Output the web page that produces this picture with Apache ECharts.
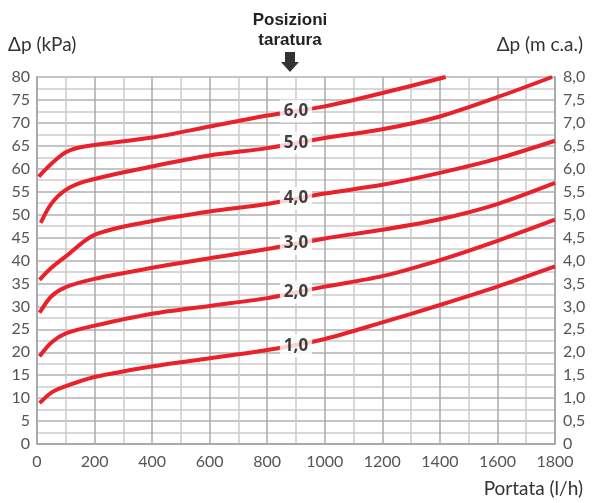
<!DOCTYPE html>
<html>
<head>
<meta charset="utf-8">
<script src="https://cdn.jsdelivr.net/npm/echarts@6/dist/echarts.min.js"></script>
<style>
  html, body { margin: 0; padding: 0; background: #fff; }
  #chart { width: 595px; height: 503px; }
</style>
</head>
<body>
<div id="chart"></div>
<script>
// curve points: [portata l/h, dp kPa]
const curve10 = [[9, 8.9], [50, 11.2], [100, 12.6], [200, 14.6], [400, 16.9], [600, 18.7], [800, 20.5], [1000, 22.9], [1200, 26.5], [1400, 30.3], [1600, 34.3], [1800, 38.7]];
const curve20 = [[9, 19.1], [50, 22.1], [100, 24.1], [200, 25.8], [400, 28.4], [600, 30.1], [800, 31.8], [1000, 34.3], [1200, 36.6], [1400, 40.1], [1600, 44.3], [1800, 48.9]];
const curve30 = [[9, 28.6], [50, 32.2], [100, 34.2], [200, 36.0], [400, 38.4], [600, 40.5], [800, 42.5], [1000, 44.8], [1200, 46.7], [1400, 49.0], [1600, 52.3], [1800, 56.9]];
const curve40 = [[9, 35.8], [50, 38.4], [100, 40.9], [200, 45.6], [400, 48.6], [600, 50.7], [800, 52.3], [1000, 54.6], [1200, 56.5], [1400, 59.1], [1600, 62.2], [1800, 66.1]];
const curve50 = [[13, 48.2], [50, 52.4], [100, 55.4], [170, 57.3], [400, 60.5], [600, 62.9], [800, 64.5], [1000, 66.7], [1200, 68.6], [1400, 71.4], [1600, 75.6], [1790, 80]];
const curve60 = [[6, 58.3], [50, 61.1], [100, 63.6], [160, 64.8], [400, 66.8], [600, 69.2], [800, 71.6], [1000, 73.6], [1200, 76.5], [1420, 80]];
const curveNames = ['1,0', '2,0', '3,0', '4,0', '5,0', '6,0'];
const labelX = 900;
const labelY = [21.4, 33.1, 43.7, 53.5, 65.6, 72.6];

const curves = [curve10, curve20, curve30, curve40, curve50, curve60];
const red = '#e8212b';
const tickFont = { color: '#555', fontSize: 16, fontFamily: 'Lato' };

const chart = echarts.init(document.getElementById('chart'));

const series = curves.map((c, i) => ({
    name: curveNames[i],
    type: 'line',
    data: c,
    smooth: 0.3,
    showSymbol: false,
    lineStyle: { color: red, width: 4 },
    z: 3
}));
series.push({
    type: 'scatter',
    symbolSize: 0,
    data: labelY.map((y, i) => [labelX, y, curveNames[i]]),
    label: {
        show: true,
        position: 'inside',
        formatter: p => p.data[2],
        backgroundColor: '#fff',
        padding: [4, 4, 2, 4],
        color: '#111',
        fontWeight: 'bold',
        fontSize: 17,
        fontFamily: 'Open Sans'
    },
    z: 5
});

chart.setOption({
    animation: false,
    grid: { left: 37, right: 40, top: 77, bottom: 59 },
    xAxis: {
        type: 'value',
        min: 0,
        max: 1800,
        interval: 200,
        axisLine: { show: true, lineStyle: { color: '#aaa', width: 2 } },
        axisTick: { show: false },
        axisLabel: Object.assign({ margin: 10, formatter: v => String(v) }, tickFont),
        splitLine: { show: true, lineStyle: { color: '#aaa', width: 1.5 } },
        minorTick: { show: false, splitNumber: 2 },
        minorSplitLine: { show: true, lineStyle: { color: '#ccc', width: 1.5 } }
    },
    yAxis: [{
        type: 'value',
        min: 0,
        max: 80,
        interval: 5,
        axisLine: { show: true, lineStyle: { color: '#aaa', width: 2 } },
        axisTick: { show: false },
        axisLabel: Object.assign({ margin: 7 }, tickFont),
        splitLine: { show: true, lineStyle: { color: '#b0b0b0', width: 1.5 } },
        minorTick: { show: false, splitNumber: 2 },
        minorSplitLine: { show: true, lineStyle: { color: '#ccc', width: 1.5 } }
    }, {
        type: 'value',
        position: 'right',
        min: 0,
        max: 8,
        interval: 0.5,
        axisLine: { show: true, lineStyle: { color: '#aaa', width: 2 } },
        axisTick: { show: false },
        axisLabel: Object.assign({
            margin: 8,
            formatter: v => v === 0 ? '0' : v.toFixed(1).replace('.', ',')
        }, tickFont),
        splitLine: { show: false }
    }],
    graphic: [
        { type: 'text', left: 8, top: 35, style: { text: 'Δp (kPa)', fontSize: 19, fontFamily: 'Lato', fill: '#333' } },
        { type: 'text', right: 12, top: 35, style: { text: 'Δp (m c.a.)', fontSize: 19, fontFamily: 'Lato', fill: '#333' } },
        { type: 'text', right: 12, top: 479, style: { text: 'Portata (l/h)', fontSize: 19, fontFamily: 'Lato', fill: '#333' } },
        { type: 'text', x: 290, y: 10, style: { text: 'Posizioni\ntaratura', fontSize: 17, lineHeight: 20, fontWeight: 'bold', fontFamily: 'Liberation Sans', fill: '#222', align: 'center' } },
        { type: 'polygon', shape: { points: [[285, 52], [295, 52], [295, 62], [299, 62], [290, 72], [281, 62], [285, 62]] }, style: { fill: '#333' } }
    ],
    series: series
});
</script>
</body>
</html>
